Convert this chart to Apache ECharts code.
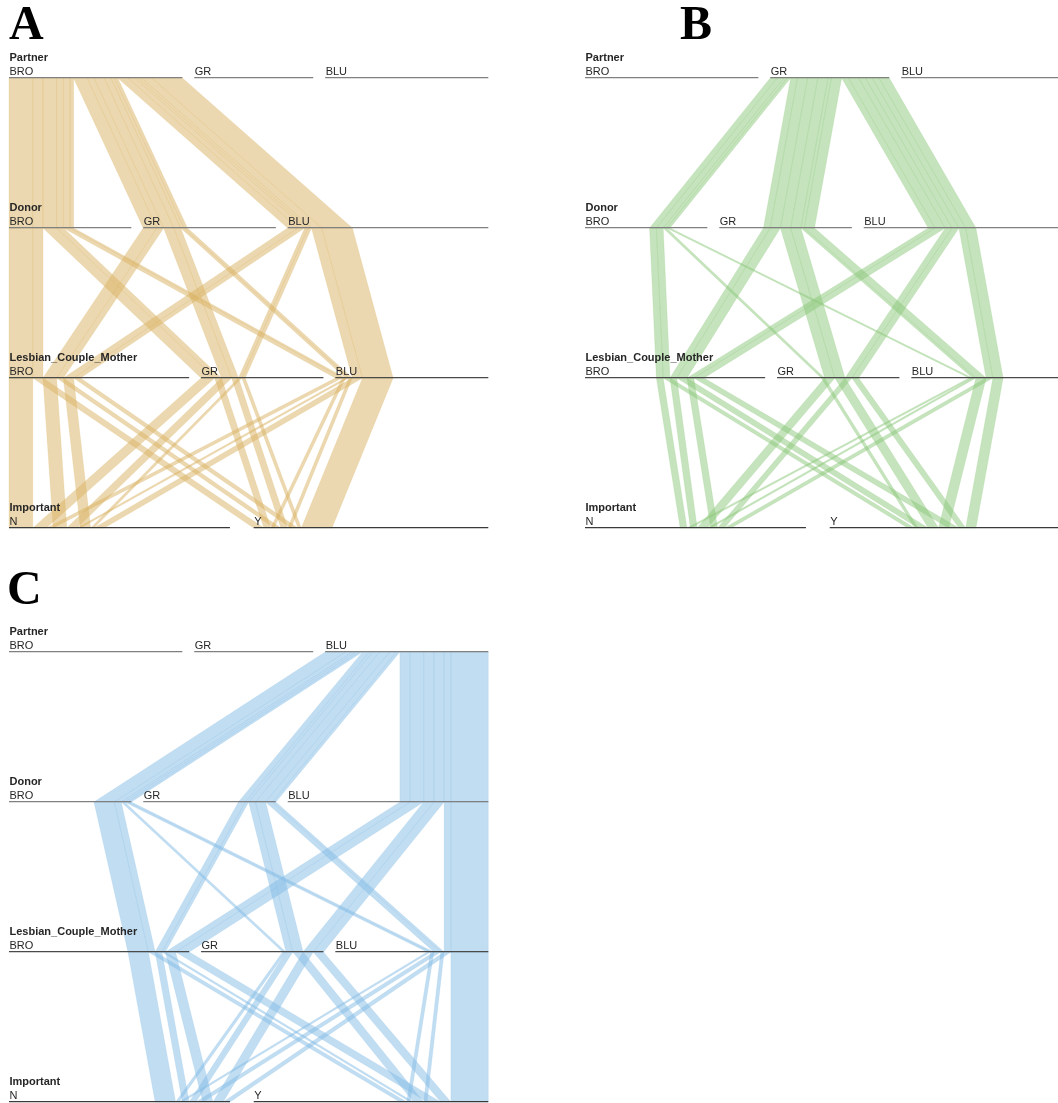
<!DOCTYPE html>
<html>
<head>
<meta charset="utf-8">
<script src="https://cdn.jsdelivr.net/npm/echarts@6/dist/echarts.min.js"></script>
<style>
  html, body { margin: 0; padding: 0; background: #ffffff; overflow: hidden; }
  #chart { width: 1070px; height: 1103px; }
</style>
</head>
<body>
<div id="chart"></div>
<script>
// Dimensions of the parallel sets, top to bottom
const dimensionNames = ['Partner', 'Donor', 'Lesbian_Couple_Mother', 'Important'];
const eyeColourCategories = ['BRO', 'GR', 'BLU'];
const importantCategories = ['N', 'Y'];
const panelLetters = ['A', 'B', 'C'];

// Respondents per partner eye colour, indexed [donor][mother] -> [Important N, Important Y]
const partnerBroCounts = [
  [[7, 3], [4, 2], [2, 1]],
  [[4, 2], [3, 2], [1, 1]],
  [[3, 2], [1, 1], [3, 9]]
];
const partnerGrCounts = [
  [[2, 2], [0, 1], [1, 0]],
  [[2, 3], [3, 3], [1, 3]],
  [[2, 3], [2, 2], [2, 3]]
];
const partnerBluCounts = [
  [[6, 2], [1, 0], [1, 1]],
  [[2, 1], [2, 3], [2, 1]],
  [[3, 4], [3, 3], [2, 11]]
];

const partnerCounts = [partnerBroCounts, partnerGrCounts, partnerBluCounts];
const categoryLists = [eyeColourCategories, eyeColourCategories, eyeColourCategories, importantCategories];

// Ribbon colours, one per partner eye colour
const ribbonBase = [[217, 177, 97], [139, 199, 122], [131, 187, 230]];
const lineColours = ['#808080', '#808080', '#4a4a4a', '#3a3a3a'];
const SPACING = 7; // total gap between the categories of a dimension, in respondents

// Every complete path through the four dimensions
const leaves = [];
partnerCounts.forEach((matrix, p) => {
  matrix.forEach((row, d) => {
    row.forEach((pair, l) => {
      pair.forEach((n, i) => {
        if (n > 0) leaves.push({ path: [p, d, l, i], count: n });
      });
    });
  });
});
const total = leaves.reduce((s, lf) => s + lf.count, 0);

function compareAround(a, b, k) {
  for (let j = 0; j < 4; j++) {
    if (j === k) continue;
    if (a[j] !== b[j]) return a[j] - b[j];
  }
  return 0;
}

// Position of each path on each dimension, and the extent of every category
const leafPos = leaves.map(() => []);
const categoryRanges = [];
categoryLists.forEach((cats, k) => {
  const gap = SPACING / (cats.length - 1);
  let x = 0;
  const ranges = [];
  cats.forEach((name, c) => {
    const members = leaves.map((lf, idx) => idx).filter(idx => leaves[idx].path[k] === c);
    members.sort((a, b) => compareAround(leaves[a].path, leaves[b].path, k));
    const start = x;
    members.forEach(idx => { leafPos[idx][k] = x; x += leaves[idx].count; });
    ranges.push([start, x, k, c]);
    x += gap;
  });
  categoryRanges.push(ranges);
});
const axisData = [].concat(...categoryRanges);

const panelGrids = [
  { left: 9, top: 78, width: 479.3, height: 450 },
  { left: 585, top: 78, width: 479.3, height: 450 },
  { left: 9, top: 652, width: 479.3, height: 450 }
];

function ribbonData(p) {
  const out = [];
  leaves.forEach((lf, idx) => {
    if (lf.path[0] !== p) return;
    for (let k = 0; k < 3; k++) {
      out.push([leafPos[idx][k], leafPos[idx][k + 1], lf.count, k]);
    }
  });
  return out;
}

function makeRibbonRenderer(p) {
  const c = ribbonBase[p];
  const fill = 'rgba(' + c.join(',') + ',0.5)';
  const stroke = 'rgba(' + c.join(',') + ',0.3)';
  return function (params, api) {
    const x0 = api.value(0), x1 = api.value(1), w = api.value(2), k = api.value(3);
    const pts = [
      api.coord([x0, k]),
      api.coord([x0 + w, k]),
      api.coord([x1 + w, k + 1]),
      api.coord([x1, k + 1])
    ];
    return {
      type: 'polygon',
      shape: { points: pts },
      style: { fill: fill, stroke: stroke, lineWidth: 0.6 }
    };
  };
}

function renderAxis(params, api) {
  const s = api.value(0), e = api.value(1), k = api.value(2), c = api.value(3);
  const p0 = api.coord([s, k]);
  const p1 = api.coord([e, k]);
  const y = Math.round(p0[1]) - 0.3;
  const children = [
    { type: 'line', shape: { x1: p0[0], y1: y, x2: p1[0], y2: y },
      style: { stroke: lineColours[k], lineWidth: 1.3 } },
    { type: 'text', style: { text: categoryLists[k][c], x: p0[0] + 0.5, y: y - 0.4,
      font: '11px "Liberation Sans", Arial, sans-serif', fill: '#262626', verticalAlign: 'bottom', align: 'left' } }
  ];
  if (c === 0) {
    children.push({ type: 'text', style: { text: dimensionNames[k], x: p0[0] + 0.5, y: y - 14.4,
      font: 'bold 11px "Liberation Sans", Arial, sans-serif', fill: '#262626', verticalAlign: 'bottom', align: 'left' } });
  }
  return { type: 'group', children: children };
}

const chart = echarts.init(document.getElementById('chart'), null, { renderer: 'canvas' });

const series = [];
panelGrids.forEach((g, p) => {
  series.push({
    type: 'custom', xAxisIndex: p, yAxisIndex: p, silent: true, clip: false, z: 2,
    renderItem: makeRibbonRenderer(p), data: ribbonData(p)
  });
  series.push({
    type: 'custom', xAxisIndex: p, yAxisIndex: p, silent: true, clip: false, z: 3,
    renderItem: renderAxis, data: axisData
  });
});

const letterFont = 'bold 48px "Liberation Serif", "Times New Roman", serif';

chart.setOption({
  animation: false,
  backgroundColor: '#ffffff',
  grid: panelGrids.map(g => Object.assign({ containLabel: false, show: false }, g)),
  xAxis: panelGrids.map((g, i) => ({ gridIndex: i, type: 'value', min: 0, max: total + SPACING, show: false })),
  yAxis: panelGrids.map((g, i) => ({ gridIndex: i, type: 'value', min: 0, max: 3, inverse: true, show: false })),
  graphic: [
    { type: 'text', x: 9, y: 3, style: { text: panelLetters[0], font: letterFont, fill: '#000', verticalAlign: 'top' } },
    { type: 'text', x: 680, y: 3, style: { text: panelLetters[1], font: letterFont, fill: '#000', verticalAlign: 'top' } },
    { type: 'text', x: 7, y: 568, style: { text: panelLetters[2], font: letterFont, fill: '#000', verticalAlign: 'top' } }
  ],
  series: series
});
</script>
</body>
</html>
